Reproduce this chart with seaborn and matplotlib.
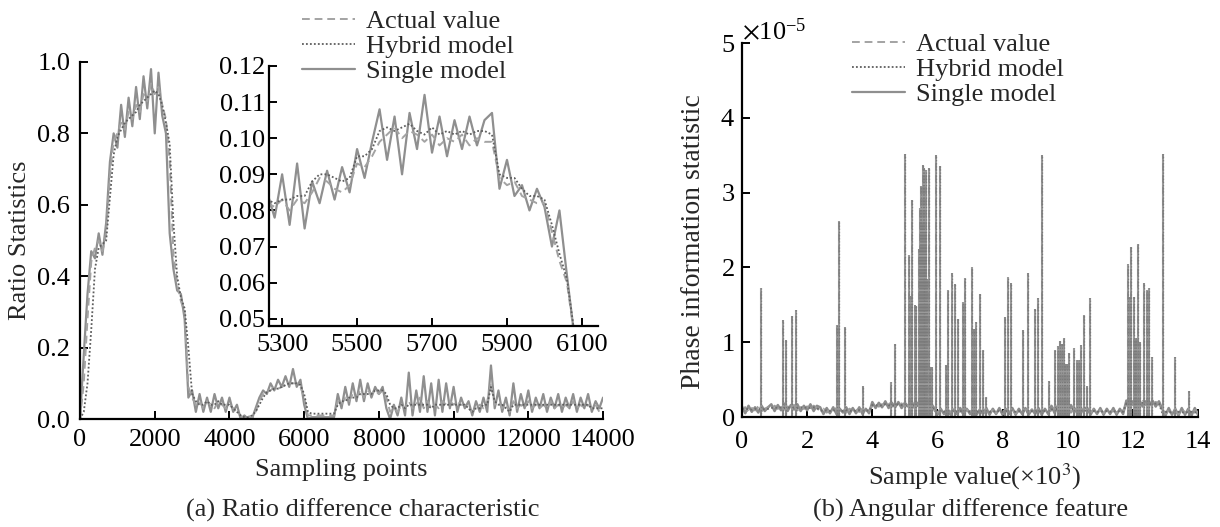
import numpy as np
import pandas as pd
import matplotlib
matplotlib.use("Agg")
import matplotlib.pyplot as plt
import seaborn as sns

# ---------------- data: (a) ratio difference characteristic ----------------
main_x = list(range(0, 14001, 100))
main_actual = [
    0.00, 0.10, 0.28, 0.44, 0.48, 0.50, 0.47, 0.52, 0.68, 0.78,
    0.80, 0.83, 0.81, 0.86, 0.84, 0.88, 0.86, 0.91, 0.89, 0.94,
    0.91, 0.93, 0.88, 0.84, 0.72, 0.46, 0.38, 0.33, 0.30, 0.09,
    0.06, 0.04, 0.05, 0.03, 0.05, 0.04, 0.03, 0.05, 0.04, 0.03,
    0.04, 0.03, 0.02, 0.01, 0.00, 0.01, 0.00, 0.02, 0.05, 0.07,
    0.08, 0.08, 0.09, 0.085, 0.09, 0.095, 0.10, 0.10, 0.10, 0.09,
    0.06, 0.01, 0.01, 0.01, 0.01, 0.01, 0.01, 0.01, 0.01, 0.05,
    0.04, 0.06, 0.05, 0.07, 0.06, 0.08, 0.06, 0.08, 0.07, 0.08,
    0.07, 0.08, 0.06, 0.02, 0.03, 0.02, 0.04, 0.03, 0.05, 0.03,
    0.04, 0.06, 0.03, 0.05, 0.03, 0.04, 0.03, 0.05, 0.04, 0.05,
    0.04, 0.05, 0.04, 0.04, 0.03, 0.02, 0.03, 0.04, 0.03, 0.05,
    0.10, 0.04, 0.05, 0.03, 0.04, 0.02, 0.05, 0.03, 0.04, 0.03,
    0.05, 0.03, 0.04, 0.03, 0.04, 0.03, 0.05, 0.03, 0.04, 0.03,
    0.04, 0.03, 0.05, 0.03, 0.04, 0.03, 0.04, 0.03, 0.04, 0.02,
    0.03]
main_hybrid = [
    0.00, 0.02, 0.10, 0.25, 0.42, 0.48, 0.49, 0.50, 0.62, 0.74,
    0.79, 0.81, 0.83, 0.84, 0.85, 0.86, 0.88, 0.89, 0.90, 0.91,
    0.92, 0.91, 0.88, 0.83, 0.77, 0.55, 0.40, 0.34, 0.31, 0.20,
    0.07, 0.05, 0.04, 0.04, 0.05, 0.04, 0.04, 0.05, 0.04, 0.04,
    0.04, 0.03, 0.02, 0.01, 0.005, 0.005, 0.01, 0.02, 0.04, 0.06,
    0.075, 0.08, 0.085, 0.085, 0.09, 0.095, 0.10, 0.10, 0.10, 0.095,
    0.07, 0.02, 0.015, 0.015, 0.015, 0.015, 0.015, 0.015, 0.015, 0.04,
    0.05, 0.05, 0.06, 0.06, 0.06, 0.07, 0.07, 0.07, 0.07, 0.08,
    0.08, 0.08, 0.07, 0.04, 0.03, 0.03, 0.04, 0.03, 0.04, 0.04,
    0.04, 0.04, 0.04, 0.04, 0.03, 0.04, 0.04, 0.04, 0.04, 0.04,
    0.04, 0.04, 0.04, 0.04, 0.03, 0.02, 0.03, 0.03, 0.04, 0.04,
    0.09, 0.05, 0.04, 0.04, 0.03, 0.02, 0.04, 0.04, 0.04, 0.04,
    0.04, 0.04, 0.04, 0.04, 0.04, 0.04, 0.04, 0.04, 0.04, 0.04,
    0.04, 0.04, 0.04, 0.04, 0.04, 0.04, 0.04, 0.03, 0.03, 0.03,
    0.03]
main_single = [
    0.00, 0.18, 0.35, 0.47, 0.45, 0.52, 0.46, 0.55, 0.72, 0.80,
    0.76, 0.88, 0.79, 0.90, 0.82, 0.93, 0.84, 0.96, 0.87, 0.98,
    0.80, 0.97, 0.85, 0.80, 0.52, 0.42, 0.36, 0.35, 0.28, 0.06,
    0.08, 0.02, 0.07, 0.02, 0.06, 0.02, 0.07, 0.03, 0.06, 0.02,
    0.06, 0.02, 0.04, 0.00, 0.01, 0.00, 0.00, 0.03, 0.06, 0.08,
    0.07, 0.10, 0.08, 0.11, 0.09, 0.12, 0.09, 0.14, 0.09, 0.11,
    0.04, 0.00, 0.005, 0.005, 0.005, 0.005, 0.005, 0.005, 0.005, 0.07,
    0.03, 0.09, 0.04, 0.10, 0.05, 0.11, 0.05, 0.10, 0.06, 0.09,
    0.07, 0.09, 0.03, 0.00, 0.04, 0.01, 0.06, 0.01, 0.13, 0.01,
    0.08, 0.02, 0.12, 0.02, 0.10, 0.01, 0.11, 0.02, 0.10, 0.03,
    0.09, 0.02, 0.06, 0.03, 0.05, 0.01, 0.05, 0.02, 0.06, 0.02,
    0.15, 0.03, 0.08, 0.02, 0.06, 0.01, 0.10, 0.02, 0.07, 0.03,
    0.08, 0.02, 0.06, 0.03, 0.07, 0.02, 0.06, 0.03, 0.07, 0.02,
    0.06, 0.03, 0.07, 0.02, 0.06, 0.03, 0.07, 0.02, 0.05, 0.03,
    0.06]

inset_x = list(range(5260, 6101, 20))
inset_hybrid = [
    0.083, 0.082, 0.083, 0.083, 0.084, 0.084, 0.088, 0.090, 0.090, 0.089,
    0.088, 0.089, 0.095, 0.095, 0.097, 0.102, 0.103, 0.102, 0.103, 0.104,
    0.102, 0.101, 0.103, 0.101, 0.102, 0.101, 0.102, 0.101, 0.102, 0.102,
    0.101, 0.090, 0.089, 0.089, 0.086, 0.084, 0.084, 0.083, 0.076, 0.068,
    0.061, 0.046, 0.040]
inset_actual = [
    0.082, 0.081, 0.083, 0.080, 0.083, 0.082, 0.085, 0.089, 0.088, 0.086,
    0.085, 0.087, 0.093, 0.092, 0.095, 0.099, 0.101, 0.103, 0.100, 0.102,
    0.101, 0.099, 0.101, 0.098, 0.100, 0.099, 0.101, 0.098, 0.100, 0.099,
    0.099, 0.089, 0.087, 0.088, 0.084, 0.083, 0.082, 0.082, 0.074, 0.066,
    0.060, 0.045, 0.040]
inset_single = [
    0.085, 0.078, 0.090, 0.076, 0.093, 0.075, 0.088, 0.082, 0.091, 0.083,
    0.092, 0.085, 0.097, 0.089, 0.099, 0.108, 0.094, 0.106, 0.090, 0.107,
    0.097, 0.112, 0.096, 0.106, 0.095, 0.105, 0.097, 0.106, 0.098, 0.105,
    0.107, 0.086, 0.094, 0.084, 0.087, 0.080, 0.086, 0.081, 0.070, 0.080,
    0.062, 0.045, 0.040]

# ---------------- data: (b) angular difference feature (values in 1e-5) ----------------
phase_x = [round(0.1 * i, 1) for i in range(141)]   # sample value, x10^3
phase_actual = [
    0.10, 0.13, 0.07, 0.12, 0.09, 0.14, 0.08, 0.11, 0.13,
    0.09, 0.15, 0.11, 0.16, 0.10, 0.14, 0.12, 0.16, 0.09, 0.15, 0.11, 0.14, 0.10, 0.15, 0.12,
    0.08, 0.11, 0.06, 0.10, 0.07, 0.12, 0.08, 0.10, 0.06, 0.11, 0.08, 0.10, 0.07, 0.11, 0.06, 0.09,
    0.15, 0.18, 0.14, 0.17, 0.15, 0.19, 0.14, 0.17, 0.16, 0.18, 0.14, 0.17, 0.15, 0.19, 0.15, 0.17, 0.14, 0.18, 0.16,
    0.09, 0.06, 0.10, 0.05, 0.09, 0.07, 0.11, 0.06, 0.08, 0.05, 0.10, 0.07, 0.09, 0.05, 0.08, 0.06, 0.10, 0.07,
    0.09, 0.05, 0.08, 0.06, 0.11, 0.07, 0.09, 0.05, 0.08, 0.06, 0.10, 0.07, 0.09, 0.05, 0.08, 0.06, 0.10, 0.07,
    0.09, 0.13, 0.07, 0.14, 0.08, 0.12, 0.06, 0.13, 0.08, 0.11, 0.07,
    0.09, 0.06, 0.10, 0.07, 0.09, 0.05, 0.10, 0.07, 0.08, 0.06, 0.10, 0.08,
    0.17, 0.20, 0.16, 0.19, 0.17, 0.21, 0.16, 0.19, 0.17, 0.20, 0.18,
    0.07, 0.04, 0.09, 0.05, 0.08, 0.04, 0.10, 0.06, 0.08, 0.04, 0.09, 0.06]
phase_hybrid = [
    0.11, 0.10, 0.11, 0.10, 0.11, 0.10, 0.11, 0.10, 0.11,
    0.12, 0.13, 0.12, 0.13, 0.12, 0.13, 0.12, 0.13, 0.12, 0.13, 0.12, 0.13, 0.12, 0.13, 0.12,
    0.09, 0.08, 0.09, 0.08, 0.09, 0.08, 0.09, 0.08, 0.09, 0.08, 0.09, 0.08, 0.09, 0.08, 0.09, 0.08,
    0.16, 0.16, 0.15, 0.16, 0.17, 0.16, 0.15, 0.16, 0.17, 0.16, 0.15, 0.16, 0.17, 0.16, 0.15, 0.16, 0.17, 0.16, 0.16,
    0.08, 0.07, 0.08, 0.07, 0.08, 0.07, 0.08, 0.07, 0.08, 0.07, 0.08, 0.07, 0.08, 0.07, 0.08, 0.07, 0.08, 0.07,
    0.08, 0.07, 0.08, 0.07, 0.08, 0.07, 0.08, 0.07, 0.08, 0.07, 0.08, 0.07, 0.08, 0.07, 0.08, 0.07, 0.08, 0.07,
    0.10, 0.11, 0.10, 0.11, 0.10, 0.11, 0.10, 0.11, 0.10, 0.09, 0.09,
    0.08, 0.07, 0.08, 0.07, 0.08, 0.07, 0.08, 0.07, 0.08, 0.07, 0.08, 0.07,
    0.18, 0.18, 0.17, 0.18, 0.18, 0.19, 0.18, 0.18, 0.17, 0.18, 0.18,
    0.06, 0.07, 0.06, 0.07, 0.06, 0.07, 0.06, 0.07, 0.06, 0.07, 0.06, 0.07]
phase_single = [
    0.14, 0.05, 0.15, 0.07, 0.13, 0.06, 0.15, 0.08, 0.13,
    0.17, 0.08, 0.16, 0.09, 0.18, 0.08, 0.16, 0.10, 0.17, 0.08, 0.15, 0.09, 0.17, 0.08, 0.15,
    0.13, 0.04, 0.12, 0.05, 0.13, 0.04, 0.11, 0.06, 0.13, 0.04, 0.12, 0.05, 0.13, 0.04, 0.11, 0.05,
    0.20, 0.12, 0.19, 0.13, 0.21, 0.12, 0.19, 0.13, 0.20, 0.12, 0.19, 0.14, 0.20, 0.12, 0.19, 0.13, 0.20, 0.12, 0.18,
    0.12, 0.03, 0.11, 0.04, 0.12, 0.03, 0.10, 0.04, 0.12, 0.03, 0.11, 0.04, 0.12, 0.03, 0.10, 0.04, 0.12, 0.03,
    0.11, 0.04, 0.12, 0.03, 0.10, 0.04, 0.12, 0.03, 0.11, 0.04, 0.12, 0.03, 0.10, 0.04, 0.12, 0.03, 0.11, 0.04,
    0.15, 0.05, 0.16, 0.06, 0.14, 0.05, 0.16, 0.06, 0.14, 0.05, 0.12,
    0.12, 0.03, 0.11, 0.04, 0.12, 0.03, 0.11, 0.04, 0.12, 0.03, 0.11, 0.04,
    0.22, 0.14, 0.21, 0.15, 0.22, 0.14, 0.21, 0.15, 0.22, 0.14, 0.21,
    0.11, 0.02, 0.12, 0.03, 0.11, 0.02, 0.12, 0.03, 0.11, 0.02, 0.12, 0.03]
spike_x = [0.58, 1.26, 1.34, 1.54, 1.66, 2.91, 2.98, 3.16, 3.70, 4.57, 4.71,
           5.00, 5.12, 5.20, 5.22, 5.30, 5.35, 5.42, 5.46, 5.50, 5.53, 5.55, 5.58,
           5.60, 5.63, 5.65, 5.68, 5.73, 5.77, 5.84, 5.97, 6.08, 6.25, 6.31, 6.44,
           6.55, 6.63, 6.78, 6.86, 7.07, 7.13, 7.18, 7.30, 7.40, 7.48, 8.06, 8.17,
           8.25, 8.63, 8.77, 8.99, 9.09, 9.20, 9.43, 9.60, 9.70, 9.76, 9.81, 9.87,
           9.93, 9.98, 10.03, 10.19, 10.29, 10.35, 10.41, 10.50, 10.60, 10.68,
           11.84, 11.90, 11.95, 12.02, 12.06, 12.10, 12.17, 12.23, 12.35, 12.44,
           12.50, 12.59, 12.93, 13.30, 13.72]
spike_h = [1.73, 1.30, 1.03, 1.35, 1.43, 1.23, 2.62, 1.20, 0.41, 0.47, 0.98,
           3.52, 2.17, 1.62, 2.90, 1.50, 1.48, 2.25, 2.80, 3.09, 2.60, 3.37, 2.05,
           3.33, 2.50, 3.30, 1.85, 3.33, 0.67, 0.67, 3.50, 3.35, 0.69, 1.70, 1.93,
           1.78, 1.31, 1.54, 1.86, 2.00, 1.18, 1.27, 1.65, 0.90, 0.27, 1.34, 1.87,
           1.79, 1.16, 1.93, 1.44, 1.59, 3.50, 0.48, 0.90, 0.95, 1.02, 0.98, 1.06,
           0.71, 0.71, 0.86, 0.92, 0.76, 0.76, 0.96, 1.36, 0.41, 1.59,
           2.05, 1.60, 2.27, 1.60, 1.02, 1.05, 2.31, 1.00, 1.79, 1.70,
           1.73, 0.80, 3.51, 0.80, 0.35]
PHASE_UNIT = 1e-5

series_labels = ["Actual value", "Hybrid model", "Single model"]

# ---------------- style ----------------
sns.set_theme(style="ticks")
plt.rcParams["font.family"] = ["Liberation Serif", "DejaVu Serif"]
plt.rcParams["mathtext.fontset"] = "stix"
plt.rcParams["axes.unicode_minus"] = True

FS = 19
st_actual = dict(color="#a3a3a3", linestyle=(0, (4, 2.5)), lw=1.4)
st_hybrid = dict(color="#5e5e5e", linestyle=(0, (1, 1.2)), lw=1.3)
st_single = dict(color="#8f8f8f", linestyle="-", lw=1.6)

fig = plt.figure(figsize=(12.2, 5.27), dpi=100)
axL = fig.add_axes([0.0656, 0.2049, 0.4287, 0.6775])
axI = fig.add_axes([0.2205, 0.3814, 0.2697, 0.4934])
axR = fig.add_axes([0.6082, 0.2087, 0.3738, 0.7097])


def style_axis(ax, xpad, ypad):
    for s in ["top", "right"]:
        ax.spines[s].set_visible(False)
    for s in ["left", "bottom"]:
        ax.spines[s].set_linewidth(1.6)
        ax.spines[s].set_color("black")
    ax.tick_params(direction="in", length=6, width=1.4, labelsize=FS, colors="black")
    ax.tick_params(axis="x", pad=xpad)
    ax.tick_params(axis="y", pad=ypad)
    ax.set_xlabel("")
    ax.set_ylabel("")
    ax.set_facecolor("none")


# ---- (a) main
dfm = pd.DataFrame({"x": main_x, "a": main_actual, "h": main_hybrid, "s": main_single})
sns.lineplot(data=dfm, x="x", y="s", ax=axL, estimator=None, errorbar=None, **st_single)
sns.lineplot(data=dfm, x="x", y="a", ax=axL, estimator=None, errorbar=None, **st_actual)
sns.lineplot(data=dfm, x="x", y="h", ax=axL, estimator=None, errorbar=None, **st_hybrid)
axL.set_xlim(0, 14000)
axL.set_ylim(0, 1.0)
axL.set_xticks(range(0, 14001, 2000))
axL.set_yticks([0.0, 0.2, 0.4, 0.6, 0.8, 1.0])
axL.yaxis.set_major_formatter(matplotlib.ticker.FormatStrFormatter("%.1f"))
style_axis(axL, 7, 7)
line_s, line_a, line_h = axL.lines[0], axL.lines[1], axL.lines[2]

# ---- (a) inset
dfi = pd.DataFrame({"x": inset_x, "a": inset_actual, "h": inset_hybrid, "s": inset_single})
sns.lineplot(data=dfi, x="x", y="s", ax=axI, estimator=None, errorbar=None, **st_single)
sns.lineplot(data=dfi, x="x", y="a", ax=axI, estimator=None, errorbar=None, **st_actual)
sns.lineplot(data=dfi, x="x", y="h", ax=axI, estimator=None, errorbar=None, **st_hybrid)
axI.set_xlim(5265, 6143)
axI.set_ylim(0.048, 0.12)
axI.set_xticks(range(5300, 6101, 200))
axI.set_yticks([0.05, 0.06, 0.07, 0.08, 0.09, 0.10, 0.11, 0.12])
axI.yaxis.set_major_formatter(matplotlib.ticker.FormatStrFormatter("%.2f"))
style_axis(axI, 6, 3)

# ---- (b)
dfr = pd.DataFrame({"x": phase_x,
                    "a": np.array(phase_actual) * PHASE_UNIT,
                    "h": np.array(phase_hybrid) * PHASE_UNIT,
                    "s": np.array(phase_single) * PHASE_UNIT})
sns.lineplot(data=dfr, x="x", y="s", ax=axR, estimator=None, errorbar=None,
             color="#8c8c8c", lw=1.8)
sns.lineplot(data=dfr, x="x", y="a", ax=axR, estimator=None, errorbar=None,
             color="#9c9c9c", linestyle=(0, (4, 2.5)), lw=1.6)
sns.lineplot(data=dfr, x="x", y="h", ax=axR, estimator=None, errorbar=None,
             color="#6e6e6e", linestyle=(0, (1, 1.2)), lw=1.4)
spk = np.array(spike_h) * PHASE_UNIT
axR.vlines(spike_x, 0, spk, colors="#9a9a9a", linestyles="-", lw=1.5)
axR.vlines(spike_x, 0, spk, colors="#888888", linestyles=[(0, (4, 2.5))], lw=1.3)
axR.vlines(spike_x, 0, spk, colors="#7a7a7a", linestyles=[(0, (1, 1.5))], lw=0.9)
axR.set_xlim(0, 14)
axR.set_ylim(0, 5e-5)
axR.set_xticks(range(0, 15, 2))
axR.set_yticks([0, 1e-5, 2e-5, 3e-5, 4e-5, 5e-5])
fmt = matplotlib.ticker.ScalarFormatter(useMathText=True)
fmt.set_powerlimits((0, 0))
axR.yaxis.set_major_formatter(fmt)
style_axis(axR, 10, 5)
axR.yaxis.get_offset_text().set_fontsize(FS)

# ---- legends
handles = [line_a, line_h, line_s]
for (x0, y0) in [(302 / 1220, 1 - 10 / 527), (852 / 1220, 1 - 33 / 527)]:
    fig.legend(handles, series_labels, loc="upper left", bbox_to_anchor=(x0, y0),
               frameon=False, fontsize=FS, handlelength=2.0, handletextpad=0.42,
               labelspacing=0.05, borderpad=0, borderaxespad=0)

# ---- labels & captions
fig.text(20 / 1220, 1 - 240 / 527, "Ratio Statistics", rotation=90,
         ha="center", va="center", fontsize=FS)
fig.text(341 / 1220, 1 - 470 / 527, "Sampling points", ha="center", va="center", fontsize=FS)
fig.text(363 / 1220, 1 - 510 / 527, "(a) Ratio difference characteristic",
         ha="center", va="center", fontsize=FS)
fig.text(694 / 1220, 1 - 242 / 527, "Phase information statistic", rotation=90,
         ha="center", va="center", fontsize=20)
fig.text(975 / 1220, 1 - 477 / 527, "Sample value(×10$^{3}$)", ha="center", va="center",
         fontsize=FS)
fig.text(971 / 1220, 1 - 510 / 527, "(b) Angular difference feature",
         ha="center", va="center", fontsize=FS)

fig.savefig("out.png", dpi=100)
